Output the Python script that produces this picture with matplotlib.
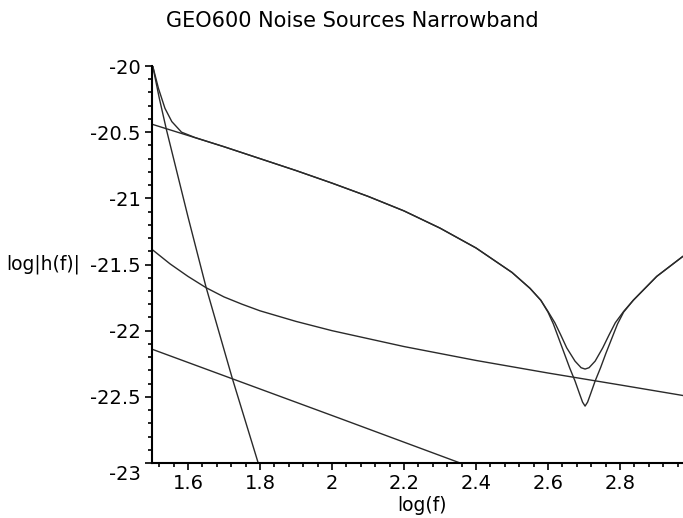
import matplotlib
matplotlib.use("Agg")
import matplotlib.pyplot as plt
import matplotlib.transforms as mtransforms
import numpy as np

# ---- data (x = log f, y = log|h(f)|) ----
seismic_x = [1.502, 1.52, 1.54, 1.56, 1.60, 1.65, 1.723, 1.795]
seismic_y = [-20.0, -20.24, -20.48, -20.70, -21.14, -21.67, -22.36, -23.0]

shot_x = [1.5, 1.6, 1.7, 1.8, 1.9, 2.0, 2.1, 2.2, 2.3, 2.4, 2.5, 2.55, 2.58,
          2.60, 2.615, 2.63, 2.645, 2.66, 2.675, 2.688, 2.696, 2.703,
          2.710, 2.718, 2.731, 2.746, 2.761, 2.777, 2.793, 2.81, 2.837,
          2.902, 2.974]
shot_y = [-20.44, -20.525, -20.61, -20.70, -20.79, -20.885, -20.985, -21.095,
          -21.225, -21.375, -21.56, -21.68, -21.77, -21.86, -21.95, -22.06,
          -22.17, -22.28, -22.38, -22.48, -22.54, -22.57, -22.54, -22.48,
          -22.38, -22.28, -22.17, -22.06, -21.95, -21.86, -21.77, -21.59,
          -21.44]

total_x = [1.502, 1.518, 1.536, 1.555, 1.582, 1.619, 1.7, 1.8, 1.9, 2.0, 2.1,
           2.2, 2.3, 2.4, 2.5, 2.55, 2.58, 2.60, 2.619, 2.635, 2.652, 2.675,
           2.692, 2.703, 2.714, 2.731, 2.752, 2.77, 2.787, 2.81, 2.837, 2.902,
           2.974]
total_y = [-20.0, -20.17, -20.32, -20.42, -20.50, -20.54, -20.61, -20.70,
           -20.79, -20.885, -20.985, -21.095, -21.225, -21.375, -21.56, -21.68,
           -21.77, -21.855, -21.94, -22.03, -22.13, -22.23, -22.28, -22.29,
           -22.28, -22.23, -22.13, -22.03, -21.94, -21.855, -21.77, -21.59,
           -21.44]

thermal_x = [1.5, 1.55, 1.6, 1.65, 1.7, 1.75, 1.8, 1.9, 2.0, 2.1, 2.2, 2.4,
             2.6, 2.8, 2.975]
thermal_y = [-21.386, -21.495, -21.59, -21.675, -21.745, -21.80, -21.85,
             -21.93, -22.0, -22.06, -22.12, -22.225, -22.32, -22.41, -22.49]

line_x = [1.5, 2.022, 2.356]
line_y = [-22.14, -22.663, -23.0]

x_major = [1.6, 1.8, 2.0, 2.2, 2.4, 2.6, 2.8]
x_major_labels = ["1.6", "1.8", "2", "2.2", "2.4", "2.6", "2.8"]
y_major = [-20, -20.5, -21, -21.5, -22, -22.5, -23]
y_major_labels = ["-20", "-20.5", "-21", "-21.5", "-22", "-22.5", "-23"]

title = "GEO600 Noise Sources Narrowband"
xlabel = "log(f)"
ylabel = "log|h(f)|"

# ---- figure ----
W, H = 683, 518
fig = plt.figure(figsize=(W / 100, H / 100), dpi=100)
L, R, B, T = 152, 683, 463, 66
ax = fig.add_axes([L / W, 1 - B / H, (R - L) / W, (B - T) / H])
ax.set_xlim(1.5, 2.975)
ax.set_ylim(-23, -20)

col = "#2a2a2a"
lw = 1.0
for xs, ys in [(seismic_x, seismic_y), (shot_x, shot_y), (total_x, total_y),
               (thermal_x, thermal_y), (line_x, line_y)]:
    ax.plot(xs, ys, color=col, lw=lw, clip_on=True, solid_joinstyle="round")

for s in ["top", "right"]:
    ax.spines[s].set_visible(False)
for s in ["left", "bottom"]:
    ax.spines[s].set_linewidth(1.5)
    ax.spines[s].set_color("black")

ax.set_xticks(x_major)
ax.set_xticklabels(x_major_labels)
ax.set_xticks(np.arange(1.52, 2.97, 0.04), minor=True)
ax.set_yticks(y_major)
ax.set_yticklabels(y_major_labels)
ax.set_yticks(np.arange(-23, -19.95, 0.1), minor=True)

ax.tick_params(axis="both", which="major", length=5, width=1.2, colors="black",
               labelsize=14, pad=3)
ax.tick_params(axis="both", which="minor", length=3, width=1.2, colors="black")

for lab in ax.get_xticklabels() + ax.get_yticklabels():
    lab.set_family("DejaVu Sans")

# shift the bottom y label down like the reference
offset = mtransforms.ScaledTranslation(0, -10 / 100, fig.dpi_scale_trans)
ylabs = ax.get_yticklabels()
ylabs[-1].set_transform(ylabs[-1].get_transform() + offset)

ax.set_xlabel(xlabel, fontsize=13.5, family="DejaVu Sans")
ax.xaxis.set_label_coords(0.508, -0.106)
ax.xaxis.label.set_va("center")
ax.set_ylabel(ylabel, fontsize=13.5, family="DejaVu Sans", rotation=0,
              ha="right", va="center")
ax.yaxis.set_label_coords(-0.1356, 0.5)

fig.text(352 / W, 1 - 21 / H, title, ha="center", va="center",
         fontsize=15, family="DejaVu Sans")

fig.savefig("out.png", dpi=100)
